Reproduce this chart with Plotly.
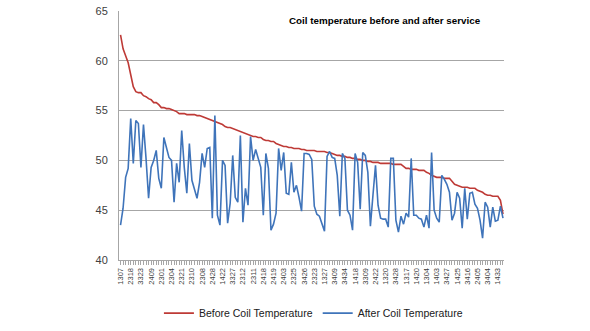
import plotly.graph_objects as go

tick_labels = ["1307", "2318", "3323", "2409", "2301", "2304", "2321", "2310", "2308", "2428",
               "1422", "3327", "2312", "2311", "2418", "2419", "2403", "2325", "3426", "2323",
               "1327", "3409", "3434", "1418", "3309", "2422", "1320", "3428", "1317", "1420",
               "1304", "1403", "3427", "1425", "3416", "2405", "3404", "1433"]

before = [62.6, 61.2, 60.5, 59.8, 58.6, 57.4, 56.9, 56.8, 56.8, 56.5,
          56.4, 56.2, 56.1, 55.8, 55.8, 55.6, 55.3, 55.3, 55.2, 55.2,
          55.1, 55.0, 54.9, 54.7, 54.7, 54.7, 54.6, 54.6, 54.6, 54.6,
          54.5, 54.5, 54.4, 54.3, 54.2, 54.1, 54.0, 53.9, 53.8, 53.7,
          53.6, 53.4, 53.3, 53.3, 53.2, 53.1, 53.0, 52.9, 52.8, 52.7,
          52.6, 52.5, 52.4, 52.4, 52.3, 52.3, 52.1, 52.0, 52.0, 51.9,
          51.9, 51.7, 51.6, 51.5, 51.4, 51.4, 51.3, 51.3, 51.2, 51.2,
          51.2, 51.1, 51.1, 51.0, 51.0, 51.0, 51.0, 50.9, 50.9, 50.9,
          50.9, 50.8, 50.8, 50.7, 50.6, 50.5, 50.5, 50.4, 50.4, 50.3,
          50.3, 50.2, 50.2, 50.1, 50.1, 50.0, 50.0, 49.9, 49.9, 49.8,
          49.8, 49.8, 49.7, 49.7, 49.7, 49.7, 49.7, 49.6, 49.6, 49.6,
          49.6, 49.4, 49.2, 49.2, 49.1, 49.1, 49.1, 49.0, 49.0, 49.0,
          48.8, 48.7, 48.5, 48.4, 48.3, 48.3, 48.3, 48.2, 48.2, 48.2,
          47.9, 47.6, 47.5, 47.4, 47.3, 47.3, 47.3, 47.2, 47.2, 47.2,
          47.0, 46.9, 46.8, 46.6, 46.5, 46.5, 46.4, 46.4, 46.4, 46.0,
          44.6]

after = [43.5, 45.2, 48.3, 49.2, 54.2, 49.7, 54.0, 53.7, 49.3, 53.6,
         50.2, 46.2, 49.3, 50.0, 51.0, 48.2, 47.2, 52.3, 51.3, 50.3,
         50.0, 45.8, 49.7, 47.8, 53.0, 49.3, 46.7, 51.7, 48.0, 47.2,
         46.2, 47.8, 50.7, 49.3, 51.2, 51.3, 44.2, 54.5, 44.5, 43.5,
         50.0, 49.5, 43.7, 45.7, 50.5, 46.3, 45.8, 52.5, 43.8, 47.2,
         45.5, 52.4, 50.0, 51.1, 50.2, 49.3, 44.5, 50.7, 49.2, 43.0,
         43.6, 44.7, 51.2, 49.0, 50.8, 46.7, 46.6, 49.8, 46.8, 47.5,
         46.3, 44.9, 50.7, 50.7, 50.6, 50.1, 45.4, 44.6, 44.4, 43.6,
         42.9, 50.4, 50.9, 50.3, 50.2, 48.5, 44.4, 50.7, 50.2, 45.0,
         44.5, 43.0, 50.7, 49.8, 45.1, 50.8, 50.5, 48.8, 43.4, 46.5,
         49.5, 45.5, 44.2, 44.1, 44.1, 43.3, 50.2, 50.2, 44.0, 42.8,
         44.4, 43.6, 44.7, 44.3, 50.2, 44.5, 44.5, 44.2, 44.1, 43.3,
         44.5, 43.2, 50.8, 45.0, 44.2, 43.8, 48.5, 48.1, 47.6, 46.8,
         44.0, 44.7, 46.8, 46.2, 43.2, 47.2, 44.1, 46.7, 46.8, 45.6,
         45.2, 44.0, 42.2, 45.8, 45.3, 43.3, 45.3, 43.9, 44.0, 45.4,
         44.2]

n = min(len(before), len(after))
x = list(range(n))
label_step = 4
tickvals = list(range(0, label_step * len(tick_labels), label_step))

fig = go.Figure()
fig.add_trace(go.Scatter(x=x, y=before[:n], mode="lines", name="Before Coil Temperature",
                         line=dict(color="#BE3A36", width=1.6)))
fig.add_trace(go.Scatter(x=x, y=after[:n], mode="lines", name="After Coil Temperature",
                         line=dict(color="#3F74BA", width=1.6)))

fig.update_layout(
    width=590, height=331,
    margin=dict(l=119, r=86, t=11, b=71, autoexpand=False),
    paper_bgcolor="white", plot_bgcolor="white",
    font=dict(family="Liberation Sans, Arial, sans-serif", color="#404040"),
    showlegend=True,
    legend=dict(orientation="h", x=0.505, xanchor="center",
                yref="container", y=0.054, yanchor="middle",
                font=dict(size=10.5, color="#202020"), itemwidth=30,
                bgcolor="rgba(0,0,0,0)"),
    hovermode=False,
    annotations=[dict(text="<b>Coil temperature before and after service</b>",
                      x=0.69, y=0.963, xref="paper", yref="paper",
                      xanchor="center", yanchor="middle", showarrow=False,
                      font=dict(size=9.8, color="#000000"))],
)

fig.update_xaxes(
    range=[-0.6, n - 0.6],
    tickmode="array", tickvals=tickvals, ticktext=tick_labels,
    tickangle=-90, tickfont=dict(size=7.5, color="#404040"),
    showgrid=False, zeroline=False,
    showline=True, linecolor="#A6A6A6", linewidth=1,
    ticks="outside", ticklen=4, tickcolor="#A6A6A6",
    minor=dict(tickmode="linear", tick0=0, dtick=1, ticks="outside",
               ticklen=4, tickcolor="#A6A6A6"),
)
fig.update_yaxes(
    range=[40, 65], dtick=5, tick0=40,
    tickfont=dict(size=11, color="#404040"),
    showgrid=True, gridcolor="#A6A6A6", gridwidth=1,
    zeroline=False,
    showline=True, linecolor="#A6A6A6", linewidth=1,
    ticks="", ticklabelstandoff=8,
)

fig.write_html("out.html")
